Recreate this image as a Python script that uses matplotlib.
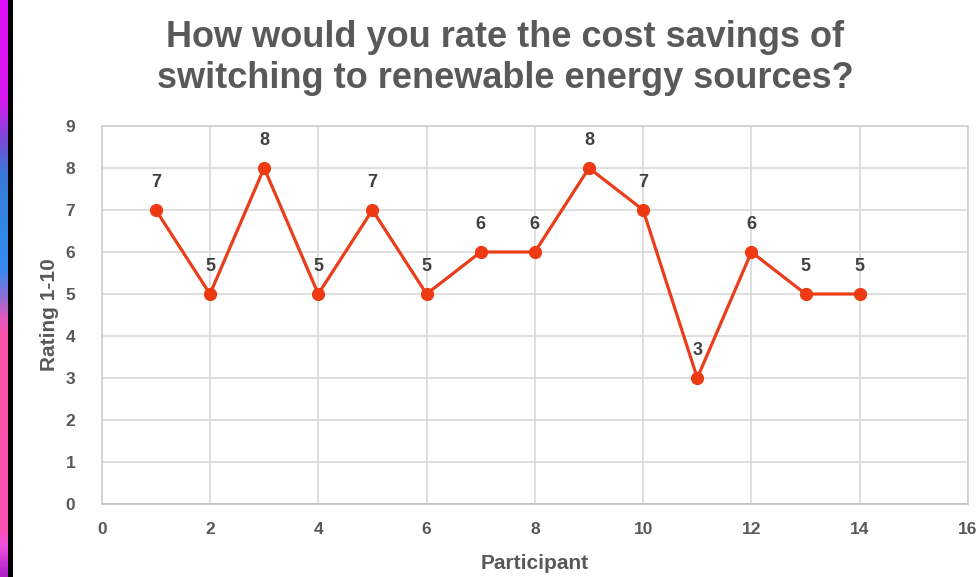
import matplotlib
matplotlib.use('Agg')
import matplotlib.pyplot as plt
import numpy as np
from matplotlib.colors import LinearSegmentedColormap

# survey answers, one rating per participant
participants = list(range(1, 15))
ratings = [7, 5, 8, 5, 7, 5, 6, 6, 8, 7, 3, 6, 5, 5]

title = 'How would you rate the cost savings of\nswitching to renewable energy sources?'
x_label = 'Participant'
y_label = 'Rating 1-10'

plt.rcParams['font.family'] = ['Liberation Sans', 'DejaVu Sans']

fig = plt.figure(figsize=(9.8, 5.77), dpi=100)
fig.patch.set_facecolor('white')

# coloured edge strip on the left
strip = fig.add_axes([0, 0, 8 / 980, 1])
stops = [(0.0, '#e010f8'), (0.17, '#d818ec'), (0.24, '#7a4ad8'), (0.30, '#3a7ad8'),
         (0.40, '#3288e8'), (0.47, '#3a8af0'), (0.52, '#9a6ad0'), (0.55, '#e058c0'),
         (0.58, '#f854a8'), (0.92, '#f852b0'), (0.95, '#f050e0'), (1.0, '#b020c8')]
cmap = LinearSegmentedColormap.from_list('edge', stops)
strip.imshow(np.linspace(0, 1, 300).reshape(-1, 1), aspect='auto', cmap=cmap)
strip.axis('off')
bar = fig.add_axes([8 / 980, 0, 5 / 980, 1])
bar.set_facecolor('black')
bar.set_xticks([])
bar.set_yticks([])
for s in bar.spines.values():
    s.set_visible(False)

ax = fig.add_axes([101.7 / 980, 1 - 504 / 577, (968 - 101.7) / 980, (504 - 126) / 577])
ax.set_xlim(0, 16)
ax.set_ylim(0, 9)
ax.set_xticks(range(0, 17, 2))
ax.set_yticks(range(0, 10))
ax.grid(True, color='#d9d9d9', linewidth=1.2)
ax.set_axisbelow(True)
for s in ax.spines.values():
    s.set_color('#d0d0d0')
    s.set_linewidth(1.2)
ax.spines['bottom'].set_color('#bfbfbf')
ax.tick_params(axis='y', length=0, colors='#595959', labelsize=12.5, pad=19)
ax.tick_params(axis='x', length=0, colors='#595959', labelsize=12.5, pad=13)
for lab in ax.get_xticklabels() + ax.get_yticklabels():
    lab.set_fontweight('bold')

ax.plot(participants, ratings, color='#ea3d1a', linewidth=2.3, marker='o',
        markersize=8.5, markerfacecolor='#ee3a12', markeredgecolor='#ee3a12')

for x, y in zip(participants, ratings):
    ax.annotate(str(y), (x, y), xytext=(0, 14), textcoords='offset points',
                ha='center', va='bottom', fontsize=13, fontweight='bold',
                color='#404040')

ax.set_xlabel(x_label, fontsize=15, fontweight='bold', color='#595959', labelpad=12)
ax.set_ylabel(y_label, fontsize=15, fontweight='bold', color='#595959', labelpad=5)

fig.text(505 / 980, 1 - 58 / 577, title, ha='center', va='center', fontsize=26,
         fontweight='bold', color='#595959', linespacing=1.2)

fig.savefig('out.png', dpi=100)
